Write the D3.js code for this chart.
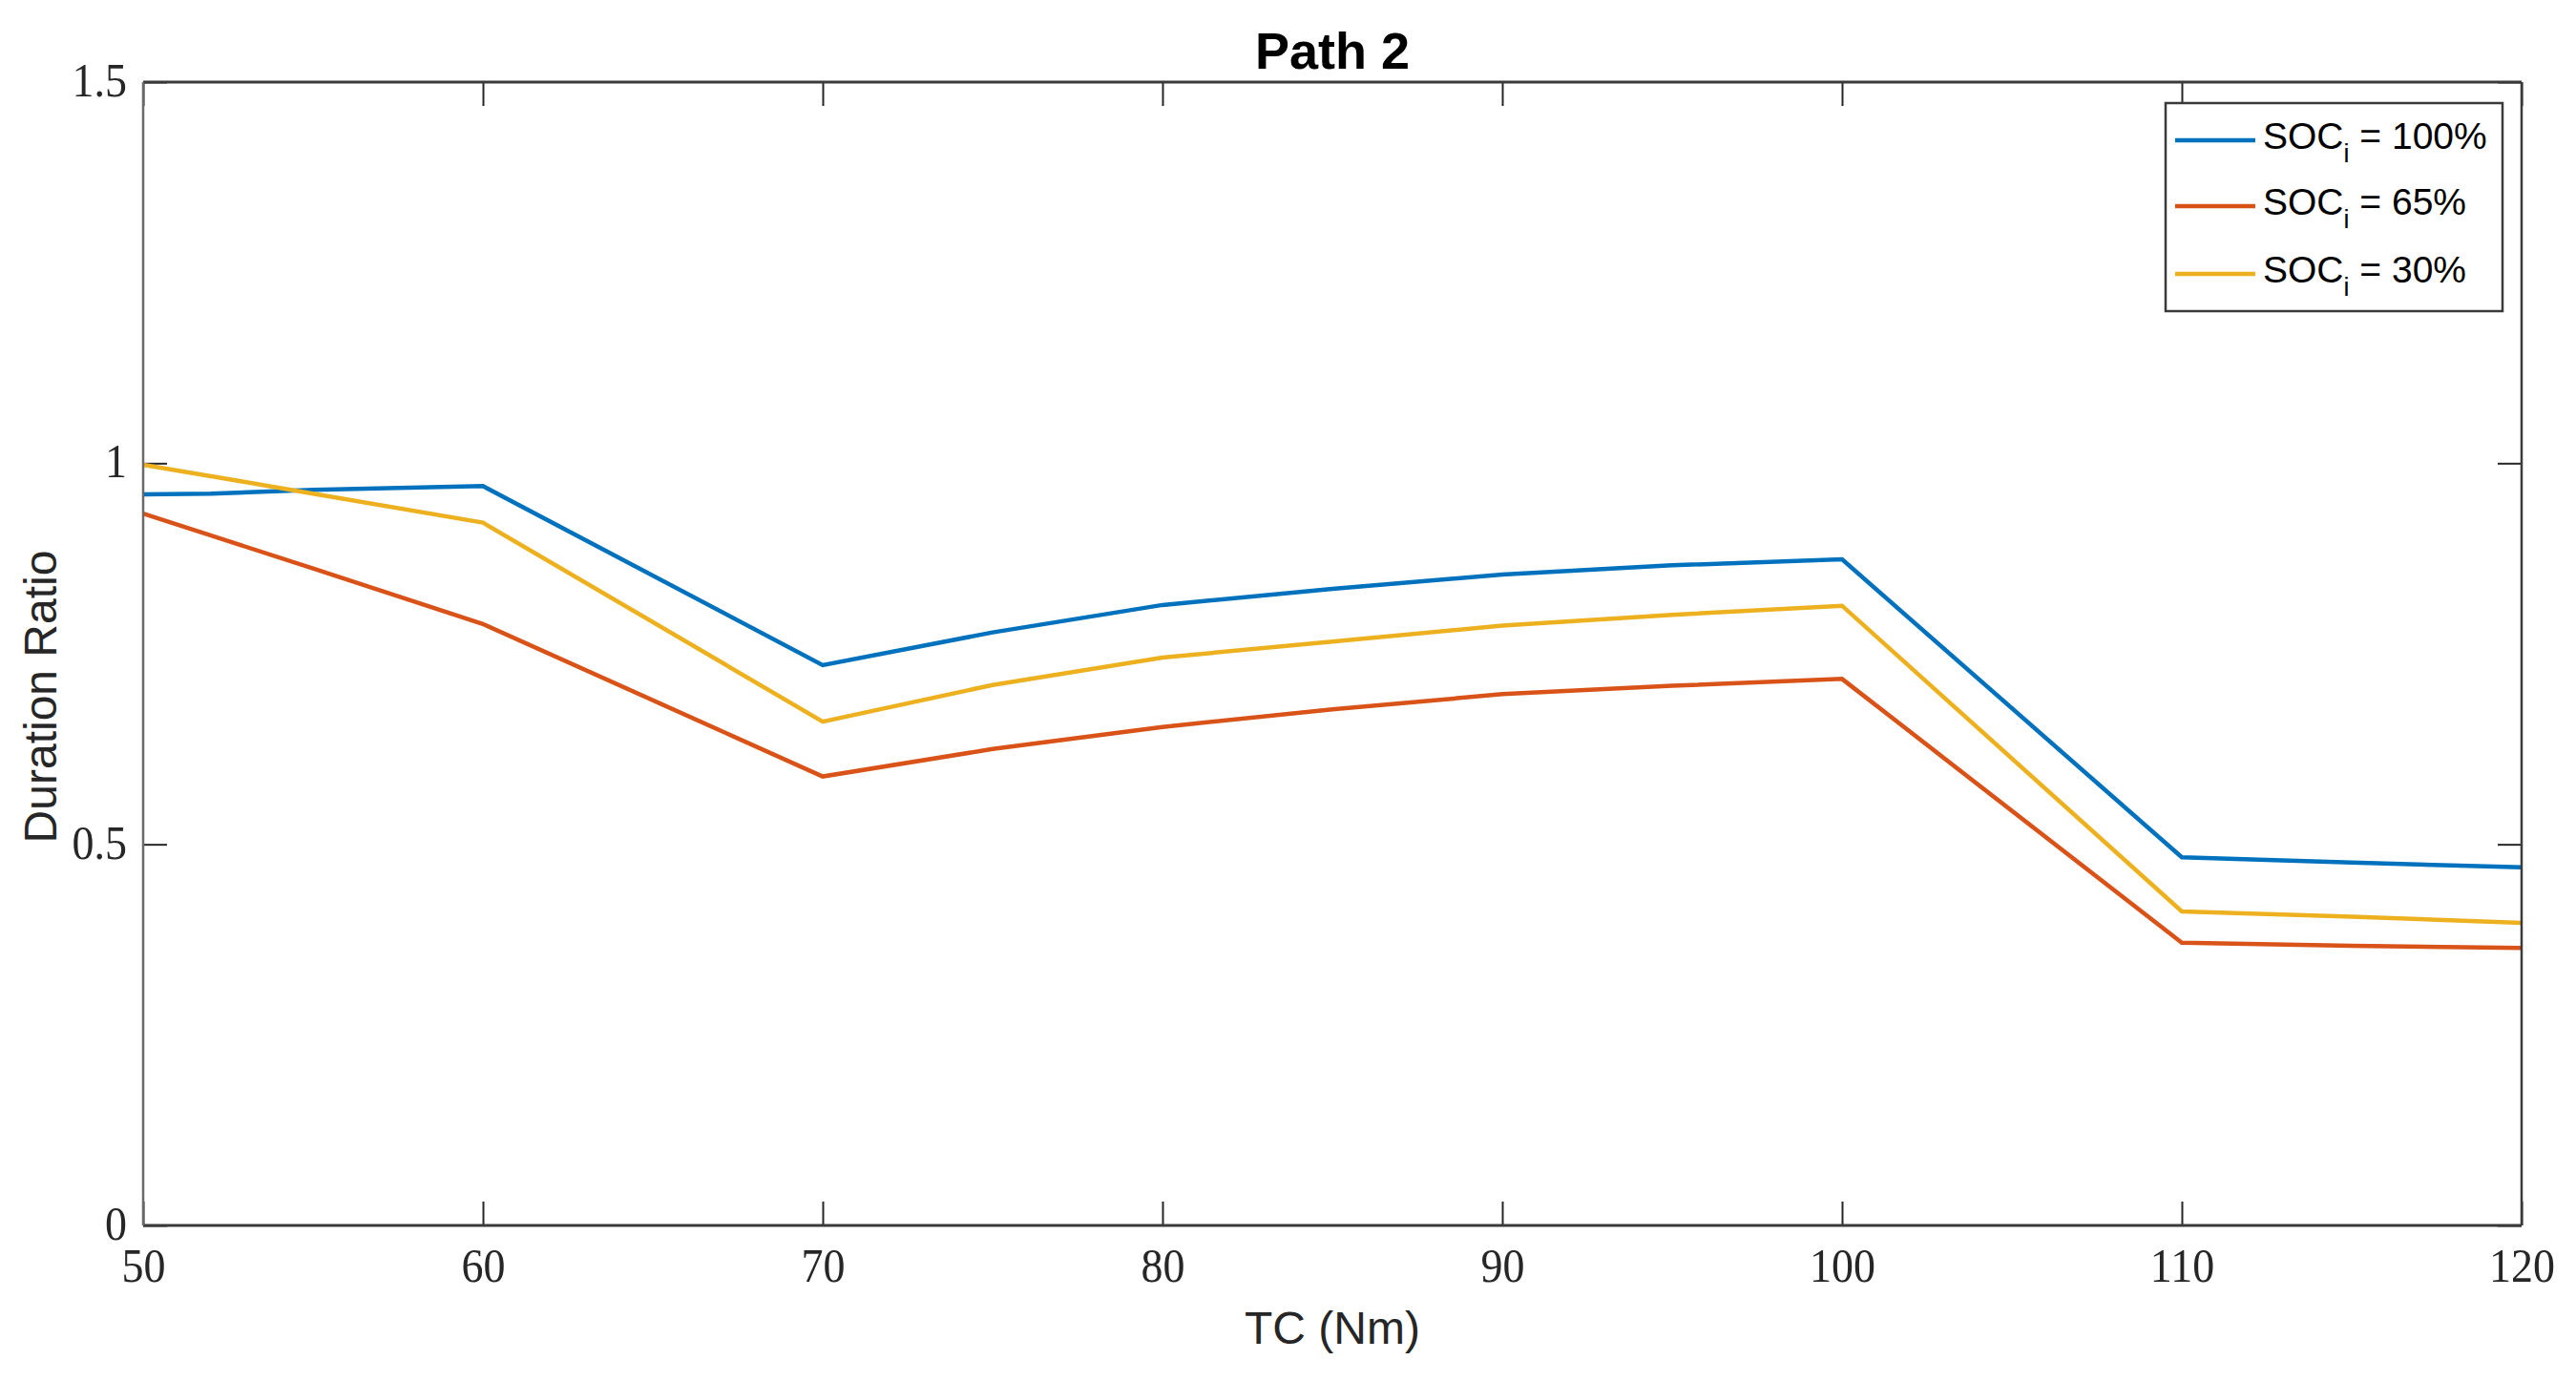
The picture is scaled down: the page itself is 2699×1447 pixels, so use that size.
<!DOCTYPE html>
<html>
<head>
<meta charset="utf-8">
<script src="https://cdn.jsdelivr.net/npm/d3@7"></script>
<style>
  html, body { margin: 0; padding: 0; background: #fff; }
  svg { display: block; }
</style>
</head>
<body>
<div id="chart"></div>
<script>
// ---- Data ----
const tc = [50, 52, 55, 60, 70, 75, 80, 85, 90, 95, 100, 110, 115, 120];
const soc100 = [0.959, 0.960, 0.965, 0.970, 0.735, 0.778, 0.814, 0.835, 0.854, 0.866, 0.874, 0.483, 0.476, 0.470];
const soc65  = [0.934, 0.905, 0.862, 0.789, 0.589, 0.625, 0.654, 0.677, 0.697, 0.708, 0.717, 0.371, 0.367, 0.364];
const soc30  = [0.998, 0.983, 0.960, 0.922, 0.661, 0.709, 0.745, 0.766, 0.787, 0.801, 0.813, 0.412, 0.405, 0.397];
const seriesNames = ["100%", "65%", "30%"];
const seriesColors = ["#0072BD", "#D95319", "#EDB120"];
const xTicks = [50, 60, 70, 80, 90, 100, 110, 120];
const yTicks = [0, 0.5, 1, 1.5];
const yTickLabels = ["0", "0.5", "1", "1.5"];

const W = 2699, H = 1447;
const L = 150, R = 2642, T = 86, B = 1284;

const svg = d3.select("#chart").append("svg")
  .attr("width", W).attr("height", H);

const x = d3.scaleLinear().domain([50, 120]).range([L, R]);
const y = d3.scaleLinear().domain([0, 1.5]).range([B, T]);

const axisColor = "#262626";
const tickLen = 25;
const serif = "'Liberation Serif', 'DejaVu Serif', serif";

// axes
const gx = svg.append("g").attr("transform", `translate(0,${B})`)
  .call(d3.axisBottom(x).tickValues(xTicks).tickSize(-tickLen).tickFormat(d3.format("d")));
const gxt = svg.append("g").attr("transform", `translate(0,${T})`)
  .call(d3.axisTop(x).tickValues(xTicks).tickSize(-tickLen).tickFormat(""));
const gy = svg.append("g").attr("transform", `translate(${L},0)`)
  .call(d3.axisLeft(y).tickValues(yTicks).tickSize(-tickLen).tickFormat((d, i) => yTickLabels[i]));
const gyr = svg.append("g").attr("transform", `translate(${R},0)`)
  .call(d3.axisRight(y).tickValues(yTicks).tickSize(-tickLen).tickFormat(""));

[gx, gxt, gy, gyr].forEach(g => {
  g.select(".domain").remove();
  g.selectAll(".tick line").attr("stroke", axisColor).attr("stroke-width", 2);
  g.selectAll(".tick text")
    .attr("font-family", serif)
    .attr("font-size", 46)
    .attr("fill", axisColor);
});
gx.selectAll(".tick text")
  .attr("x", 0).attr("y", 0).attr("dy", null)
  .attr("transform", "translate(0,59) scale(1,1.12)");
gy.selectAll(".tick text")
  .attr("x", 0).attr("y", 0).attr("dy", "0.32em")
  .attr("transform", "translate(-17,-2) scale(1,1.12)");

// lines
const line = d3.line().x((d, i) => x(tc[i])).y(d => y(d));
const allSeries = [soc100, soc65, soc30];
allSeries.forEach((s, k) => {
  svg.append("path")
    .datum(s)
    .attr("d", line)
    .attr("fill", "none")
    .attr("stroke", seriesColors[k])
    .attr("stroke-width", 4.5)
    .attr("stroke-linejoin", "miter");
});

// plot box
svg.append("line").attr("x1", L).attr("x2", R).attr("y1", B).attr("y2", B).attr("stroke", "#3a3a3a").attr("stroke-width", 3);
svg.append("line").attr("x1", L).attr("x2", R).attr("y1", T).attr("y2", T).attr("stroke", "#3a3a3a").attr("stroke-width", 3);
svg.append("line").attr("x1", L).attr("x2", L).attr("y1", T).attr("y2", B).attr("stroke", "#6a6a6a").attr("stroke-width", 2.5);
svg.append("line").attr("x1", R).attr("x2", R).attr("y1", T).attr("y2", B).attr("stroke", "#3a3a3a").attr("stroke-width", 2.5);

// title
svg.append("text")
  .attr("x", (L + R) / 2).attr("y", 72)
  .attr("text-anchor", "middle")
  .attr("font-family", "'Liberation Sans', Arial, sans-serif")
  .attr("font-weight", "bold")
  .attr("font-size", 54)
  .attr("fill", "#000")
  .text("Path 2");

// axis labels
svg.append("text")
  .attr("x", (L + R) / 2).attr("y", 1408)
  .attr("text-anchor", "middle")
  .attr("font-family", "'Liberation Sans', Arial, sans-serif")
  .attr("font-size", 48)
  .attr("fill", axisColor)
  .text("TC (Nm)");

svg.append("text")
  .attr("transform", `translate(59,730) rotate(-90)`)
  .attr("text-anchor", "middle")
  .attr("font-family", "'Liberation Sans', Arial, sans-serif")
  .attr("font-size", 48)
  .attr("fill", axisColor)
  .text("Duration Ratio");

// legend
const lg = svg.append("g");
lg.append("rect")
  .attr("x", 2269).attr("y", 108).attr("width", 353).attr("height", 218)
  .attr("fill", "#fff").attr("stroke", "#3a3a3a").attr("stroke-width", 2.5);
const rowY = [147, 216, 287];
seriesNames.forEach((name, k) => {
  lg.append("line")
    .attr("x1", 2279).attr("x2", 2363)
    .attr("y1", rowY[k]).attr("y2", rowY[k])
    .attr("stroke", seriesColors[k]).attr("stroke-width", 4.5);
  const t = lg.append("text")
    .attr("x", 2371).attr("y", rowY[k] + 9)
    .attr("font-family", "'Liberation Sans', Arial, sans-serif")
    .attr("font-size", 39)
    .attr("fill", "#000");
  t.append("tspan").text("SOC");
  t.append("tspan").attr("dy", 14).attr("font-size", 27).text("i");
  t.append("tspan").attr("dy", -14).text(" = " + name);
});
</script>
</body>
</html>
